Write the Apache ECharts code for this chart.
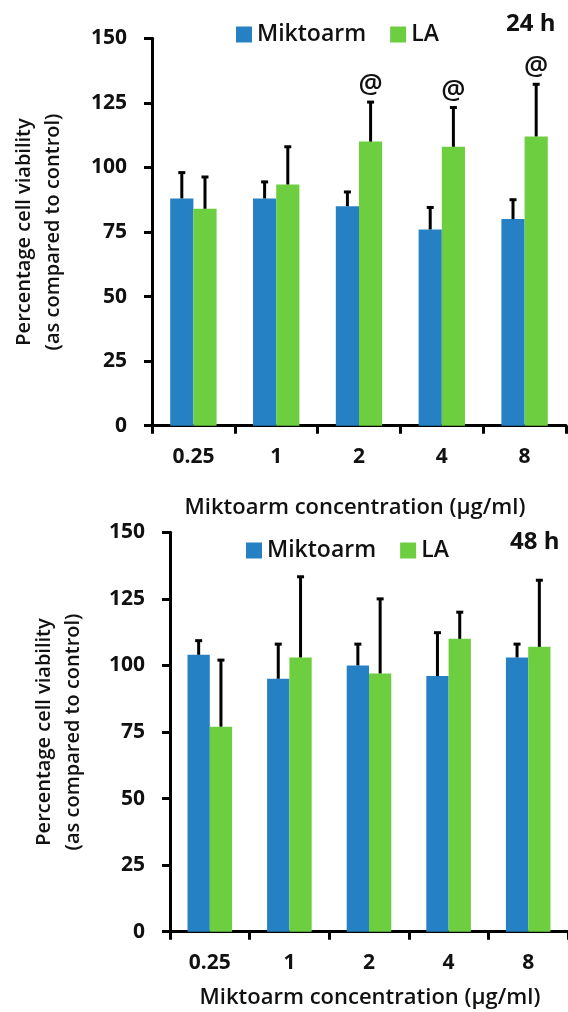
<!DOCTYPE html>
<html><head><meta charset="utf-8">
<script src="https://cdn.jsdelivr.net/npm/echarts@6/dist/echarts.min.js"></script>
<style>html,body{margin:0;padding:0;background:#fff}#c{width:568px;height:1012px}</style>
</head><body><div id="c"></div>
<script>
const categories = ['0.25', '1', '2', '4', '8'];
const seriesNames = ['Miktoarm', 'LA'];
const yTicks = [0, 25, 50, 75, 100, 125, 150];
const miktoarm24 = [88, 88, 85, 76, 80];
const miktoarm24ErrTop = [98, 94.4, 90.5, 84.5, 87.5];
const la24 = [84, 93.4, 110, 108, 112];
const la24ErrTop = [96.3, 108, 125.3, 123.2, 132.2];
const la24Marks = ['', '', '@', '@', '@'];
const miktoarm48 = [104, 95, 100, 96, 103];
const miktoarm48ErrTop = [109.3, 108, 108, 112.3, 108];
const la48 = [77, 103, 97, 110, 107];
const la48ErrTop = [102, 133.3, 125, 120, 132];
const panelTitles = ['24 h', '48 h'];
const xAxisTitle = 'Miktoarm concentration (µg/ml)';
const yAxisTitle = 'Percentage cell viability\n(as compared to control)';

const FONT = '"Open Sans", "Noto Sans", sans-serif';
const BLUE = '#2581c4';
const GREEN = '#6dcf40';
const INK = '#111';

const chart = echarts.init(document.getElementById('c'), null, {renderer: 'canvas'});

function errSeries(gi, vals, tops, side, marks) {
  return {
    type: 'custom', xAxisIndex: gi, yAxisIndex: gi, silent: true, z: 5,
    data: vals.map((v, i) => [i, v, tops[i]]),
    renderItem(params, api) {
      const i = api.value(0);
      const base = api.coord([i, api.value(1)]);
      const top = api.coord([i, api.value(2)]);
      const band = api.size([1, 0])[0];
      const x = base[0] + side * band * 0.14;
      const children = [
        {type: 'line', shape: {x1: x, y1: base[1], x2: x, y2: top[1]}, style: {stroke: '#000', lineWidth: 3}},
        {type: 'line', shape: {x1: x - 3.5, y1: top[1], x2: x + 3.5, y2: top[1]}, style: {stroke: '#000', lineWidth: 3}}
      ];
      const m = marks ? marks[params.dataIndex] : '';
      if (m) {
        children.push({type: 'text', style: {text: m, x: x, y: top[1] - 3, align: 'center', verticalAlign: 'bottom',
          fontSize: 27, fontFamily: FONT, fontWeight: 600, fill: INK}});
      }
      return {type: 'group', children};
    }
  };
}

const grids = [
  {left: 152, top: 38.3, width: 414, height: 387.4},
  {left: 170, top: 532.3, width: 402, height: 399.4}
];
const yNameGap = [84, 82];

const legendText = {fontSize: 23, fontFamily: FONT, fontWeight: 600, color: INK};

const option = {
  animation: false,
  backgroundColor: '#fff',
  grid: grids,
  legend: [
    {data: seriesNames, left: 231, top: 18, itemWidth: 16, itemHeight: 16, itemGap: 24, icon: 'rect', textStyle: legendText},
    {data: seriesNames, left: 241, top: 534, itemWidth: 16, itemHeight: 16, itemGap: 24, icon: 'rect', textStyle: legendText}
  ],
  xAxis: [0, 1].map(gi => ({
    type: 'category', gridIndex: gi, data: categories,
    axisLine: {lineStyle: {color: '#000', width: 3}},
    axisTick: {show: true, inside: false, length: 8, lineStyle: {color: '#000', width: 3}},
    axisLabel: {margin: 21, fontSize: 21, fontFamily: FONT, fontWeight: 700, color: INK}
  })),
  yAxis: [0, 1].map(gi => ({
    type: 'value', gridIndex: gi, min: 0, max: 150, interval: 25,
    splitLine: {show: false},
    axisLine: {show: true, lineStyle: {color: '#000', width: 3}},
    axisTick: {show: true, inside: false, length: 8, lineStyle: {color: '#000', width: 3}},
    axisLabel: {margin: 25, fontSize: 21, fontFamily: FONT, fontWeight: 700, color: INK,
      formatter: v => yTicks.includes(v) ? String(v) : ''},
    name: yAxisTitle, nameLocation: 'middle', nameRotate: 90, nameGap: yNameGap[gi],
    nameTextStyle: {fontSize: 20, fontFamily: FONT, fontWeight: 600, color: INK, lineHeight: 29, align: 'center'}
  })),
  graphic: [
    {type: 'text', x: 506, y: 24, style: {text: panelTitles[0], verticalAlign: 'middle', fontSize: 24, fontFamily: FONT, fontWeight: 700, fill: INK}},
    {type: 'text', x: 510, y: 542, style: {text: panelTitles[1], verticalAlign: 'middle', fontSize: 24, fontFamily: FONT, fontWeight: 700, fill: INK}},
    {type: 'text', x: 355, y: 508, style: {text: xAxisTitle, align: 'center', verticalAlign: 'middle', fontSize: 22, fontFamily: FONT, fontWeight: 600, fill: INK}},
    {type: 'text', x: 370, y: 998, style: {text: xAxisTitle, align: 'center', verticalAlign: 'middle', fontSize: 22, fontFamily: FONT, fontWeight: 600, fill: INK}}
  ],
  series: [
    {name: 'Miktoarm', type: 'bar', xAxisIndex: 0, yAxisIndex: 0, data: miktoarm24, barWidth: '28%', barGap: '0%', itemStyle: {color: BLUE}},
    {name: 'LA', type: 'bar', xAxisIndex: 0, yAxisIndex: 0, data: la24, barWidth: '28%', barGap: '0%', itemStyle: {color: GREEN}},
    {name: 'Miktoarm', type: 'bar', xAxisIndex: 1, yAxisIndex: 1, data: miktoarm48, barWidth: '28%', barGap: '0%', itemStyle: {color: BLUE}},
    {name: 'LA', type: 'bar', xAxisIndex: 1, yAxisIndex: 1, data: la48, barWidth: '28%', barGap: '0%', itemStyle: {color: GREEN}},
    errSeries(0, miktoarm24, miktoarm24ErrTop, -1, null),
    errSeries(0, la24, la24ErrTop, 1, la24Marks),
    errSeries(1, miktoarm48, miktoarm48ErrTop, -1, null),
    errSeries(1, la48, la48ErrTop, 1, null)
  ]
};
chart.setOption(option);
</script>
</body></html>
